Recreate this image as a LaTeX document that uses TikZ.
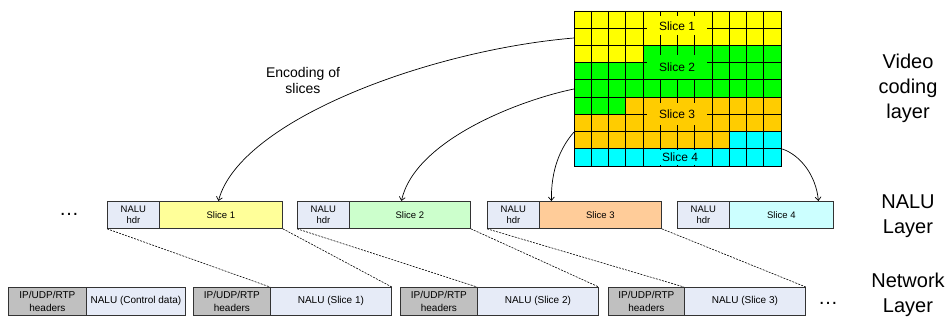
\documentclass[tikz,border=0pt]{standalone}
\usepackage{fontspec}
\setmainfont{Liberation Sans}
\usetikzlibrary{arrows.meta,calc}
\definecolor{gyellow}{HTML}{FFFF00}
\definecolor{ggreen}{HTML}{00FF00}
\definecolor{gorange}{HTML}{FFCC00}
\definecolor{gcyan}{HTML}{00FFFF}
\definecolor{hdrfill}{HTML}{E6EBF7}
\definecolor{sone}{HTML}{FFFF99}
\definecolor{stwo}{HTML}{CCFFCC}
\definecolor{sthree}{HTML}{FFCC99}
\definecolor{sfour}{HTML}{CCFFFF}
\definecolor{netgray}{HTML}{C0C0C0}
\definecolor{edge}{HTML}{333333}
\begin{document}
\begin{tikzpicture}[x=1pt,y=-1pt,
  nalubox/.style={draw=edge, line width=0.8pt, minimum height=27, inner sep=0, anchor=north west, align=center, font=\fontsize{9.5}{10.5}\selectfont},
  netbox/.style={draw=edge, line width=0.8pt, minimum height=28, inner sep=0, anchor=north west, align=center, font=\fontsize{10}{13}\selectfont},
  gridline/.style={draw=black, line width=0.9pt},
  glabel/.style={inner sep=0, minimum width=60, font=\fontsize{12}{14}\selectfont},
  conn/.style={draw=black, line width=0.6pt, dash pattern=on 2pt off 1.2pt},
  arr/.style={draw=black, line width=0.7pt, -{Straight Barb[length=3.5pt,width=6pt]}},
  sidelabel/.style={align=center, font=\fontsize{20}{25}\selectfont},
  dots/.style={font=\fontsize{20}{24}\selectfont, inner sep=0}
]
\useasboundingbox (0,0) rectangle (950,320);

% ---- video frame grid ----
\begin{scope}[shift={(574,11)}, x=17.25pt, y=-17.2222pt]
  \fill[gyellow] (0,0) -- (12,0) -- (12,2) -- (4,2) -- (4,3) -- (0,3) -- cycle;
  \fill[ggreen] (0,3) -- (4,3) -- (4,2) -- (12,2) -- (12,5) -- (3,5) -- (3,6) -- (0,6) -- cycle;
  \fill[gorange] (0,6) -- (3,6) -- (3,5) -- (12,5) -- (12,7) -- (9,7) -- (9,8) -- (0,8) -- cycle;
  \fill[gcyan] (0,8) -- (9,8) -- (9,7) -- (12,7) -- (12,9) -- (0,9) -- cycle;
  \foreach \i in {1,...,11} \draw[gridline] (\i,0) -- (\i,9);
  \foreach \j in {1,...,8} \draw[gridline] (0,\j) -- (12,\j);
\end{scope}
\node[glabel, fill=gyellow, minimum height=19] (l1) at (677,26) {Slice 1};
\node[glabel, fill=ggreen, minimum height=24] (l2) at (677,67) {Slice 2};
\node[glabel, fill=gorange, minimum height=22] (l3) at (677,114) {Slice 3};
\node[glabel, fill=gcyan, minimum width=50, minimum height=15] (l4) at (680,157.5) {Slice 4};
\node[draw=black, line width=1.3pt, minimum width=207, minimum height=155, inner sep=0, anchor=north west] (frame) at (574,11) {};

% ---- NALU layer ----
\node[nalubox, fill=hdrfill, minimum width=52] (h1) at (107,201) {NALU\\hdr};
\node[nalubox, fill=sone, minimum width=123] (s1) at (159,201) {Slice 1};
\node[nalubox, fill=hdrfill, minimum width=52] (h2) at (297,201) {NALU\\hdr};
\node[nalubox, fill=stwo, minimum width=121] (s2) at (349,201) {Slice 2};
\node[nalubox, fill=hdrfill, minimum width=52] (h3) at (487,201) {NALU\\hdr};
\node[nalubox, fill=sthree, minimum width=122] (s3) at (539,201) {Slice 3};
\node[nalubox, fill=hdrfill, minimum width=52] (h4) at (677,201) {NALU\\hdr};
\node[nalubox, fill=sfour, minimum width=104] (s4) at (729,201) {Slice 4};
\node[dots] (dl) at (69,214) {\ldots};

% ---- Network layer ----
\node[netbox, fill=netgray, minimum width=78] (g1) at (8,287) {IP/UDP/RTP\\headers};
\node[netbox, fill=hdrfill, minimum width=99] (q1) at (86,287) {NALU (Control data)};
\node[netbox, fill=netgray, minimum width=77] (g2) at (193,287) {IP/UDP/RTP\\headers};
\node[netbox, fill=hdrfill, minimum width=121] (q2) at (270,287) {NALU (Slice 1)};
\node[netbox, fill=netgray, minimum width=77] (g3) at (400,287) {IP/UDP/RTP\\headers};
\node[netbox, fill=hdrfill, minimum width=121] (q3) at (477,287) {NALU (Slice 2)};
\node[netbox, fill=netgray, minimum width=76] (g4) at (608,287) {IP/UDP/RTP\\headers};
\node[netbox, fill=hdrfill, minimum width=121] (q4) at (684,287) {NALU (Slice 3)};
\node[dots] (dr) at (828,303) {\ldots};

% ---- dashed mapping lines ----
\draw[conn] (h1.south west) -- (q2.north west);
\draw[conn] (s1.south east) -- (q2.north east);
\draw[conn] (h2.south west) -- (q3.north west);
\draw[conn] (s2.south east) -- (q3.north east);
\draw[conn] (h3.south west) -- (q4.north west);
\draw[conn] (s3.south east) -- (q4.north east);

% ---- encoding arrows ----
\coordinate (a1) at ($(frame.north west)+(0,27)$);
\coordinate (a2) at ($(frame.north west)+(0,78)$);
\coordinate (a3) at ($(frame.north west)+(0,121)$);
\coordinate (a4) at ($(frame.north east)+(0,138)$);
\coordinate (e1) at ($(s1.north)+(-2.5,0)$);
\coordinate (e2) at ($(s2.north)+(-8.5,0)$);
\coordinate (e3) at ($(s3.north)+(-49,0)$);
\coordinate (e4) at ($(s4.north)+(37,0)$);
\draw[arr] (a1) .. controls (430,50) and (240,120) .. (e1);
\draw[arr] (a2) .. controls (520,100) and (415,140) .. (e2);
\draw[arr] (a3) .. controls (560,148) and (551,170) .. (e3);
\draw[arr] (a4) .. controls (800,155) and (816,175) .. (e4);
\node[align=center, font=\fontsize{14}{16}\selectfont] (enc) at (303,80) {Encoding of\\slices};

% ---- layer names ----
\node[sidelabel] (vcl) at (908,88) {Video\\coding\\layer};
\node[sidelabel] (nl) at (908,216) {NALU\\Layer};
\node[sidelabel] (netl) at (908,295) {Network\\Layer};
\end{tikzpicture}
\end{document}
